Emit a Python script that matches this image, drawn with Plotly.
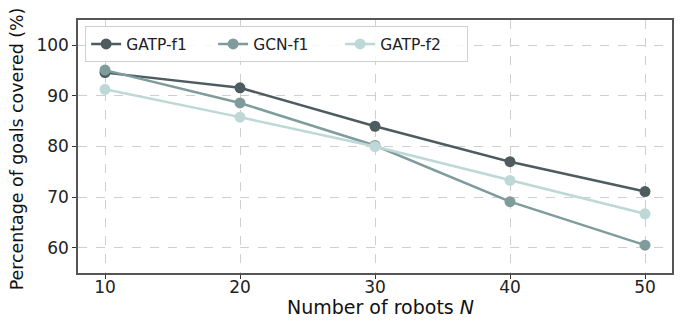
import plotly.graph_objects as go

robots = [10, 20, 30, 40, 50]
gatp_f1 = [94.6, 91.6, 84.0, 77.0, 71.1]
gcn_f1 = [95.1, 88.6, 80.2, 69.1, 60.5]
gatp_f2 = [91.3, 85.8, 80.0, 73.3, 66.7]

series = [
    ("GATP-f1", gatp_f1, "#4e5c60"),
    ("GCN-f1", gcn_f1, "#7f9c9c"),
    ("GATP-f2", gatp_f2, "#bdd8d6"),
]

fig = go.Figure()
for name, vals, col in series:
    fig.add_trace(go.Scatter(
        x=robots, y=vals, name=name, mode="lines+markers",
        line=dict(color=col, width=2.5),
        marker=dict(color=col, size=11),
    ))

font = "DejaVu Sans, sans-serif"
fig.update_layout(
    width=675, height=314,
    margin=dict(l=70, r=11, t=12, b=49),
    paper_bgcolor="white", plot_bgcolor="white",
    font=dict(family=font, size=16, color="#222"),
    showlegend=True,
    legend=dict(
        orientation="h", x=0.012, y=0.975, xanchor="left", yanchor="top",
        bgcolor="rgba(255,255,255,0.85)", bordercolor="#d0d0d0", borderwidth=1,
        font=dict(size=15.5), itemwidth=30, tracegroupgap=0,
        entrywidth=82,
    ),
    xaxis=dict(
        range=[8, 52], tickvals=robots, ticktext=[str(v) for v in robots],
        showgrid=True, gridcolor="#cfcfcf", griddash="dash", gridwidth=1,
        showline=True, linecolor="#555", linewidth=1.5, mirror=True,
        ticks="outside", ticklen=4, tickcolor="#333",
        tickfont=dict(size=17), automargin=False, ticklabelstandoff=-6,
        zeroline=False,
    ),
    yaxis=dict(
        range=[55, 105], tickvals=[60, 70, 80, 90, 100],
        showgrid=True, gridcolor="#cfcfcf", griddash="dash", gridwidth=1,
        showline=True, linecolor="#555", linewidth=1.5, mirror=True,
        ticks="outside", ticklen=4, tickcolor="#333",
        tickfont=dict(size=17), automargin=False,
        zeroline=False,
    ),
    annotations=[
        dict(text="Number of robots <i>N</i>", xref="paper", yref="paper",
             x=0.51, y=-0.134, xanchor="center", yanchor="middle",
             showarrow=False, font=dict(size=19, color="#111")),
        dict(text="Percentage of goals covered (%)", xref="paper", yref="paper",
             x=-0.103, y=0.492, xanchor="center", yanchor="middle", textangle=-90,
             showarrow=False, font=dict(size=17.4, color="#111")),
    ],
)

fig.write_html("out.html")
